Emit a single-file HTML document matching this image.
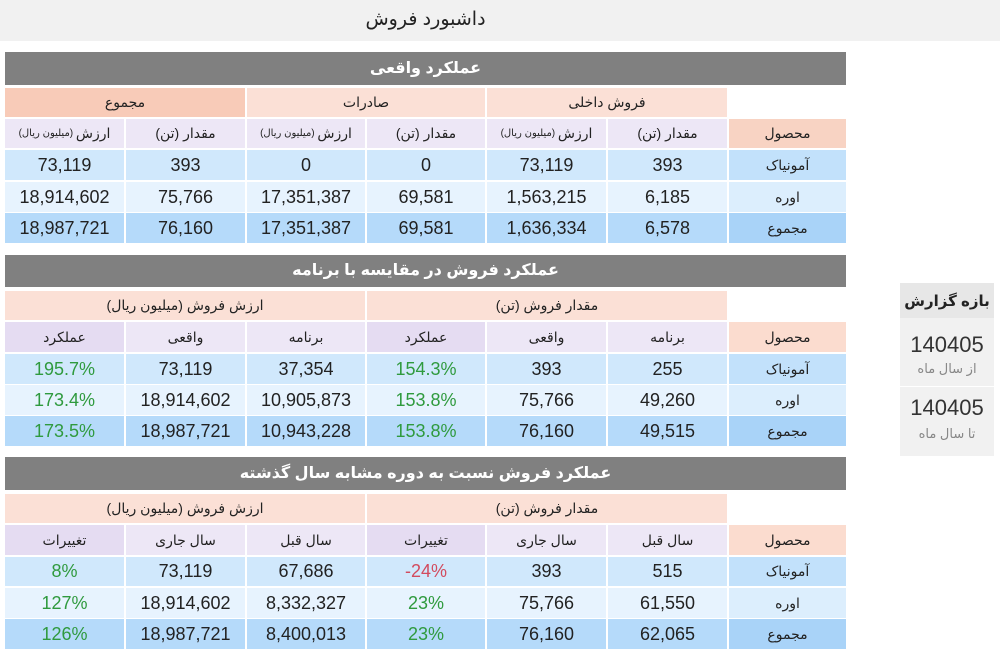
<!DOCTYPE html>
<html><head><meta charset="utf-8">
<style>
*{margin:0;padding:0;box-sizing:border-box}
body{width:1000px;height:656px;background:#fff;position:relative;overflow:hidden;font-family:"Liberation Sans","DejaVu Sans",sans-serif;color:#222}
.top{position:absolute;left:0;top:0;width:1000px;height:41px;background:#f1f1f1}
.title{position:absolute;left:5px;width:841px;top:8px;text-align:center;font-size:19px;color:#222;direction:rtl}
.gh{position:absolute;left:5px;width:841px;background:#808080;color:#fff;font-weight:bold;font-size:16px;text-align:center;direction:rtl}
.r{position:absolute;left:0;width:1000px}
.c{position:absolute;top:0;height:100%;display:flex;align-items:center;justify-content:center;direction:rtl;white-space:nowrap}
.c1{left:5px;width:119px}.c2{left:126px;width:119px}.c3{left:247px;width:118px}.c4{left:367px;width:118px}.c5{left:487px;width:119px}.c6{left:608px;width:119px}.c7{left:729px;width:117px}
.g12{left:5px;width:240px}.g34{left:247px;width:238px}.g56{left:487px;width:240px}
.g13{left:5px;width:360px}.g46{left:367px;width:360px}
.grp{background:#fbe0d6;font-size:14px;color:#222}
.grpd{background:#f8cbb8}
.sub{background:#ede7f6;font-size:14px;color:#222}
.subd{background:#e5dcf2}
.prh{background:#f8d3c3;font-size:14px;color:#222}
.prh2{background:#fbdccf}
.sm{font-size:10px}
.d{font-size:18px;color:#222}
.a1{background:#d0e8fc}.a2{background:#e7f3fe}.a3{background:#b5dafa}
.p1{background:#c2e1fb;font-size:14px}.p2{background:#dceefd;font-size:14px}.p3{background:#a9d3f8;font-size:14px}
.gr{color:#2f9a3e}.rd{color:#d24b5e}
.side{position:absolute;left:900px;width:94px}
</style></head><body>
<div class="top"></div>
<div class="title">داشبورد فروش</div>

<!-- Section 1 -->
<div class="gh" style="top:52px;height:33px;line-height:33px">عملکرد واقعی</div>
<div class="r" style="top:88px;height:29px">
<div class="c g12 grp grpd">مجموع</div>
<div class="c g34 grp">صادرات</div>
<div class="c g56 grp">فروش داخلی</div>
</div>
<div class="r" style="top:119px;height:29px">
<div class="c c1 sub">ارزش <span class="sm">&nbsp;(میلیون ریال)</span></div>
<div class="c c2 sub">مقدار (تن)</div>
<div class="c c3 sub">ارزش <span class="sm">&nbsp;(میلیون ریال)</span></div>
<div class="c c4 sub">مقدار (تن)</div>
<div class="c c5 sub">ارزش <span class="sm">&nbsp;(میلیون ریال)</span></div>
<div class="c c6 sub">مقدار (تن)</div>
<div class="c c7 prh">محصول</div>
</div>
<div class="r" style="top:150px;height:30px">
<div class="c c1 d a1">73,119</div><div class="c c2 d a1">393</div><div class="c c3 d a1">0</div><div class="c c4 d a1">0</div><div class="c c5 d a1">73,119</div><div class="c c6 d a1">393</div><div class="c c7 p1">آمونیاک</div>
</div>
<div class="r" style="top:182px;height:30px">
<div class="c c1 d a2">18,914,602</div><div class="c c2 d a2">75,766</div><div class="c c3 d a2">17,351,387</div><div class="c c4 d a2">69,581</div><div class="c c5 d a2">1,563,215</div><div class="c c6 d a2">6,185</div><div class="c c7 p2">اوره</div>
</div>
<div class="r" style="top:213px;height:30px">
<div class="c c1 d a3">18,987,721</div><div class="c c2 d a3">76,160</div><div class="c c3 d a3">17,351,387</div><div class="c c4 d a3">69,581</div><div class="c c5 d a3">1,636,334</div><div class="c c6 d a3">6,578</div><div class="c c7 p3">مجموع</div>
</div>

<!-- Section 2 -->
<div class="gh" style="top:255px;height:32px;line-height:32px">عملکرد فروش در مقایسه با برنامه</div>
<div class="r" style="top:291px;height:29px">
<div class="c g13 grp">ارزش فروش (میلیون ریال)</div>
<div class="c g46 grp">مقدار فروش (تن)</div>
</div>
<div class="r" style="top:322px;height:30px">
<div class="c c1 sub subd">عملکرد</div><div class="c c2 sub">واقعی</div><div class="c c3 sub">برنامه</div><div class="c c4 sub subd">عملکرد</div><div class="c c5 sub">واقعی</div><div class="c c6 sub">برنامه</div><div class="c c7 prh prh2">محصول</div>
</div>
<div class="r" style="top:354px;height:30px">
<div class="c c1 d a1 gr">195.7%</div><div class="c c2 d a1">73,119</div><div class="c c3 d a1">37,354</div><div class="c c4 d a1 gr">154.3%</div><div class="c c5 d a1">393</div><div class="c c6 d a1">255</div><div class="c c7 p1">آمونیاک</div>
</div>
<div class="r" style="top:385px;height:30px">
<div class="c c1 d a2 gr">173.4%</div><div class="c c2 d a2">18,914,602</div><div class="c c3 d a2">10,905,873</div><div class="c c4 d a2 gr">153.8%</div><div class="c c5 d a2">75,766</div><div class="c c6 d a2">49,260</div><div class="c c7 p2">اوره</div>
</div>
<div class="r" style="top:416px;height:30px">
<div class="c c1 d a3 gr">173.5%</div><div class="c c2 d a3">18,987,721</div><div class="c c3 d a3">10,943,228</div><div class="c c4 d a3 gr">153.8%</div><div class="c c5 d a3">76,160</div><div class="c c6 d a3">49,515</div><div class="c c7 p3">مجموع</div>
</div>

<!-- Section 3 -->
<div class="gh" style="top:457px;height:33px;line-height:33px">عملکرد فروش نسبت به دوره مشابه سال گذشته</div>
<div class="r" style="top:494px;height:29px">
<div class="c g13 grp">ارزش فروش (میلیون ریال)</div>
<div class="c g46 grp">مقدار فروش (تن)</div>
</div>
<div class="r" style="top:525px;height:30px">
<div class="c c1 sub subd">تغییرات</div><div class="c c2 sub">سال جاری</div><div class="c c3 sub">سال قبل</div><div class="c c4 sub subd">تغییرات</div><div class="c c5 sub">سال جاری</div><div class="c c6 sub">سال قبل</div><div class="c c7 prh prh2">محصول</div>
</div>
<div class="r" style="top:557px;height:29px">
<div class="c c1 d a1 gr">8%</div><div class="c c2 d a1">73,119</div><div class="c c3 d a1">67,686</div><div class="c c4 d a1 rd"><span dir="ltr">-24%</span></div><div class="c c5 d a1">393</div><div class="c c6 d a1">515</div><div class="c c7 p1">آمونیاک</div>
</div>
<div class="r" style="top:588px;height:30px">
<div class="c c1 d a2 gr">127%</div><div class="c c2 d a2">18,914,602</div><div class="c c3 d a2">8,332,327</div><div class="c c4 d a2 gr">23%</div><div class="c c5 d a2">75,766</div><div class="c c6 d a2">61,550</div><div class="c c7 p2">اوره</div>
</div>
<div class="r" style="top:619px;height:30px">
<div class="c c1 d a3 gr">126%</div><div class="c c2 d a3">18,987,721</div><div class="c c3 d a3">8,400,013</div><div class="c c4 d a3 gr">23%</div><div class="c c5 d a3">76,160</div><div class="c c6 d a3">62,065</div><div class="c c7 p3">مجموع</div>
</div>

<!-- Side panel -->
<div class="side" style="top:283px;height:35px;background:#e7e7e7;display:flex;align-items:center;justify-content:center;font-weight:bold;font-size:15px;color:#222;white-space:nowrap;direction:rtl;overflow:visible">بازه گزارش</div>
<div class="side" style="top:318px;height:68px;background:#f1f1f1;text-align:center">
<div style="font-size:22px;color:#333;margin-top:15px;line-height:24px">140405</div>
<div style="font-size:13px;color:#888;margin-top:4px;direction:rtl;white-space:nowrap">از سال ماه</div>
</div>
<div class="side" style="top:387px;height:69px;background:#f1f1f1;text-align:center">
<div style="font-size:22px;color:#333;margin-top:9px;line-height:24px">140405</div>
<div style="font-size:13px;color:#888;margin-top:6px;direction:rtl;white-space:nowrap">تا سال ماه</div>
</div>
</body></html>
